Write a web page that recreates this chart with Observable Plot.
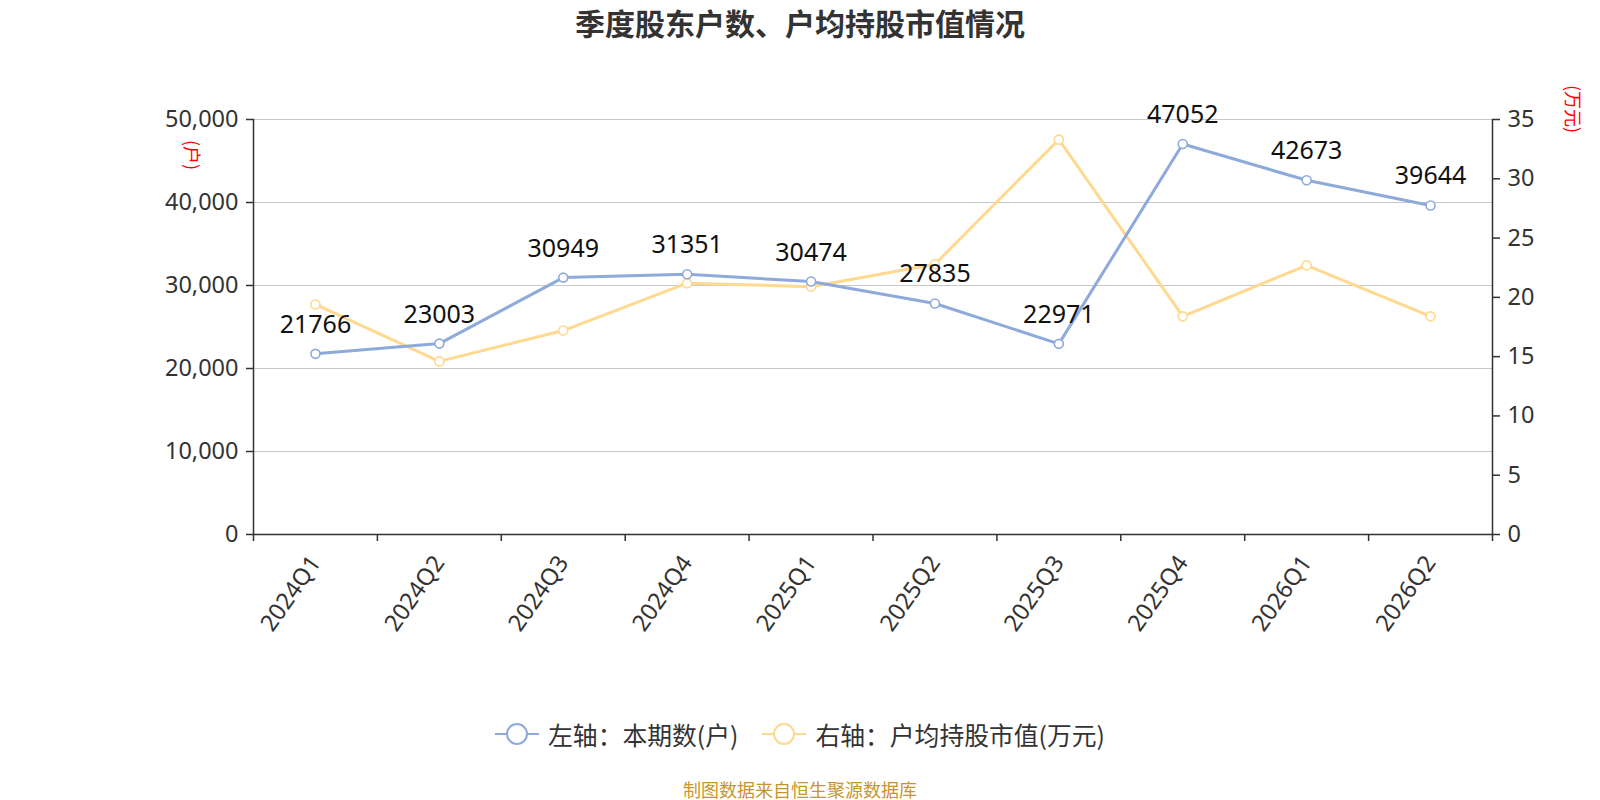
<!DOCTYPE html>
<html>
<head>
<meta charset="utf-8">
<script src="https://cdn.jsdelivr.net/npm/d3@7"></script>
<script src="https://cdn.jsdelivr.net/npm/@observablehq/plot@0.6"></script>
<style>
  html, body { margin: 0; padding: 0; background: #fff; }
  body { width: 1600px; height: 800px; position: relative; overflow: hidden;
         font-family: "Noto Sans", "Noto Sans CJK SC", sans-serif; }
  #title { position: absolute; top: 0; left: 0; width: 1600px; height: 44px; line-height: 44px;
           text-align: center; font-size: 30px; font-weight: bold; color: #333;
           font-family: "Noto Sans CJK SC", sans-serif; }
  #chart { position: absolute; top: 50px; left: 0; }
  .unit { position: absolute; color: #ff0000; font-size: 18px; line-height: 20px; font-family: "Noto Sans CJK SC", sans-serif;
          transform-origin: 0 0; transform: rotate(90deg); white-space: nowrap; }
  #legend { position: absolute; top: 714px; left: 0; width: 1600px; height: 40px;
            display: flex; justify-content: center; align-items: center;
            font-size: 24.8px; color: #333; font-family: "Noto Sans CJK SC", sans-serif; }
  .item { display: flex; align-items: center; margin: 0 12px; }
  .item svg { margin-right: 9px; }
  #footer { position: absolute; top: 776px; left: 0; width: 1600px; text-align: center;
            font-size: 18px; color: #c8952c; font-family: "Noto Sans CJK SC", sans-serif; }
</style>
</head>
<body>
<div id="title">季度股东户数、户均持股市值情况</div>
<div id="chart"></div>
<div class="unit" id="unitL" style="left:203px; top:140px;">(户)</div>
<div class="unit" id="unitR" style="left:1584px; top:85px;">(万元)</div>
<div id="legend"></div>
<div id="footer">制图数据来自恒生聚源数据库</div>
<script>
const quarters = ["2024Q1","2024Q2","2024Q3","2024Q4","2025Q1","2025Q2","2025Q3","2025Q4","2026Q1","2026Q2"];
const holders  = [21766, 23003, 30949, 31351, 30474, 27835, 22971, 47052, 42673, 39644];
const avgValue = [19.4, 14.6, 17.2, 21.2, 20.9, 22.8, 33.3, 18.4, 22.7, 18.4];
const leftTicks  = [0, 10000, 20000, 30000, 40000, 50000];
const rightTicks = [0, 5, 10, 15, 20, 25, 30, 35];
const seriesNames = ["左轴：本期数(户)", "右轴：户均持股市值(万元)"];

const blue = "#8eaadb";
const yellow = "#ffd98f";
const leftMax = 50000, rightMax = 35;
const k = leftMax / rightMax;

const data = quarters.map((q, i) => ({q, h: holders[i], v: avgValue[i]}));

const W = 1600, H = 660, ML = 253, MR = 108, MT = 69, MB = 176;
const bw = (W - ML - MR) / quarters.length;

const chart = Plot.plot({
  width: W, height: H,
  marginLeft: ML, marginRight: MR, marginTop: MT, marginBottom: MB,
  style: { fontFamily: "'Noto Sans', 'Noto Sans CJK SC', sans-serif", background: "#fff" },
  x: { type: "band", domain: quarters, padding: 0, round: false, label: null },
  y: { domain: [0, leftMax], label: null },
  marks: [
    Plot.gridY(leftTicks, { stroke: "#c8c8c8", strokeOpacity: 1, strokeWidth: 1.2 }),
    Plot.axisY(leftTicks, { anchor: "left", label: null, tickSize: 7, tickPadding: 8, tickFormat: d3.format(","),
      fontSize: 23.5, fill: "#333", stroke: "#333", strokeWidth: 1.5 }),
    Plot.axisY(rightTicks.map(d => d * k), { anchor: "right", label: null, tickSize: 7, tickPadding: 8,
      tickFormat: d => String(Math.round(d / k)), fontSize: 23.5, fill: "#333", stroke: "#333", strokeWidth: 1.5 }),
    Plot.axisX({ label: null, tickRotate: -55, tickSize: 0, tickPadding: 24, fontSize: 23.5, fill: "#333" }),
    Plot.axisX(quarters, { label: null, tickSize: 7, tickFormat: () => "", dx: -bw / 2, stroke: "#333", strokeWidth: 1.5 }),
    Plot.axisX([quarters[quarters.length - 1]], { label: null, tickSize: 7, tickFormat: () => "", dx: bw / 2, stroke: "#333", strokeWidth: 1.5 }),
    Plot.frame({ anchor: "left", stroke: "#333", strokeWidth: 1.5 }),
    Plot.frame({ anchor: "right", stroke: "#333", strokeWidth: 1.5 }),
    Plot.frame({ anchor: "bottom", stroke: "#333", strokeWidth: 1.5 }),
    Plot.lineY(data, { x: "q", y: d => d.v * k, stroke: yellow, strokeWidth: 3 }),
    Plot.dot(data, { x: "q", y: d => d.v * k, r: 4.5, fill: "#fff", stroke: yellow, strokeWidth: 1.6 }),
    Plot.lineY(data, { x: "q", y: "h", stroke: blue, strokeWidth: 3 }),
    Plot.dot(data, { x: "q", y: "h", r: 4.5, fill: "#fff", stroke: blue, strokeWidth: 1.6 }),
    Plot.text(data, { x: "q", y: "h", text: d => String(d.h), dy: -29, fontSize: 25, fill: "#111" })
  ]
});
document.getElementById("chart").appendChild(chart);

const legend = document.getElementById("legend");
[[seriesNames[0], blue], [seriesNames[1], yellow]].forEach(([name, color]) => {
  const item = document.createElement("div");
  item.className = "item";
  item.innerHTML = `<svg width="44" height="24"><line x1="0" y1="12" x2="44" y2="12" stroke="${color}" stroke-width="2"/>` +
    `<circle cx="22" cy="12" r="10" fill="#fff" stroke="${color}" stroke-width="2"/></svg><span>${name}</span>`;
  legend.appendChild(item);
});
</script>
</body>
</html>
